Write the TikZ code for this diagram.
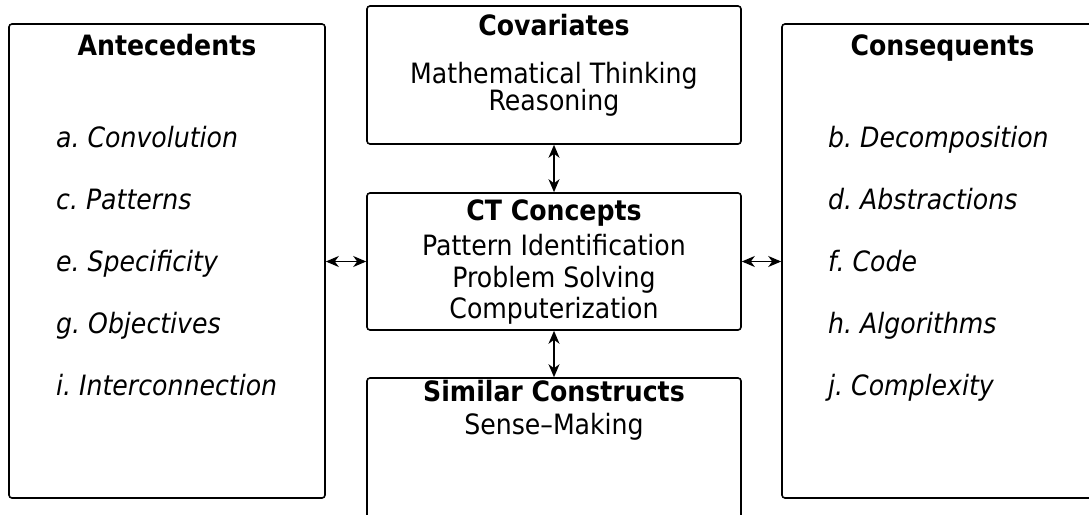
\documentclass[tikz,border=0pt]{standalone}
\usepackage{fontspec}
\setmainfont{DejaVu Sans Condensed}
\usetikzlibrary{arrows.meta}
\frenchspacing
\begin{document}
\begin{tikzpicture}[x=1pt,y=-1pt,
  box/.style={draw, line width=1.6pt, rounded corners=3pt, rectangle, inner sep=0pt},
  ttl/.style={font=\fontsize{28}{32}\selectfont\bfseries, anchor=base, inner sep=0pt},
  txt/.style={font=\fontsize{28}{32}\selectfont, anchor=base, inner sep=0pt},
  itm/.style={font=\fontsize{28}{32}\selectfont\itshape, anchor=base west, inner sep=0pt},
  link/.style={{Stealth[length=13pt,width=11pt,inset=4pt]}-{Stealth[length=13pt,width=11pt,inset=4pt]}, line width=1.5pt}]
\useasboundingbox (0,0) rectangle (1089,514);
% boxes
\node[box, minimum width=316pt, minimum height=474pt] (ante) at (167,261) {};
\node[box, minimum width=374pt, minimum height=138pt] (cov) at (554,75) {};
\node[box, minimum width=374pt, minimum height=137pt] (ct) at (554,261.5) {};
\node[box, minimum width=374pt, minimum height=150pt] (sim) at (554,453) {};
\node[box, minimum width=322pt, minimum height=474pt] (cons) at (943,261) {};
% antecedents
\node[ttl] (anteT) at (167,55) {Antecedents};
\node[itm] (a) at (56,147) {a. Convolution};
\node[itm] (c) at (56,209) {c. Patterns};
\node[itm] (e) at (56,271) {e. Specificity};
\node[itm] (g) at (56,333) {g. Objectives};
\node[itm] (i) at (56,395) {i. Interconnection};
% consequents
\node[ttl] (consT) at (942.5,55) {Consequents};
\node[itm] (b) at (828,147) {b. Decomposition};
\node[itm] (d) at (828,209) {d. Abstractions};
\node[itm] (f) at (828,271) {f. Code};
\node[itm] (h) at (828,333) {h. Algorithms};
\node[itm] (j) at (828,395) {j. Complexity};
% covariates
\node[ttl] (covT) at (554,35) {Covariates};
\node[txt] (cov1) at (554,83) {Mathematical Thinking};
\node[txt] (cov2) at (554,110) {Reasoning};
% CT concepts
\node[ttl] (ctT) at (554,220) {CT Concepts};
\node[txt] (ct1) at (554,255) {Pattern Identification};
\node[txt] (ct2) at (554,287) {Problem Solving};
\node[txt] (ct3) at (554,318) {Computerization};
% similar constructs
\node[ttl] (simT) at (554,401) {Similar Constructs};
\node[txt] (sim1) at (554,434) {Sense--Making};
% connectors
\draw[link] (ante.east |- ct.west) -- (ct.west);
\draw[link] (ct.east) -- (cons.west |- ct.east);
\draw[link] (cov.south) -- (ct.north);
\draw[link] (ct.south) -- (sim.north);
\end{tikzpicture}
\end{document}
